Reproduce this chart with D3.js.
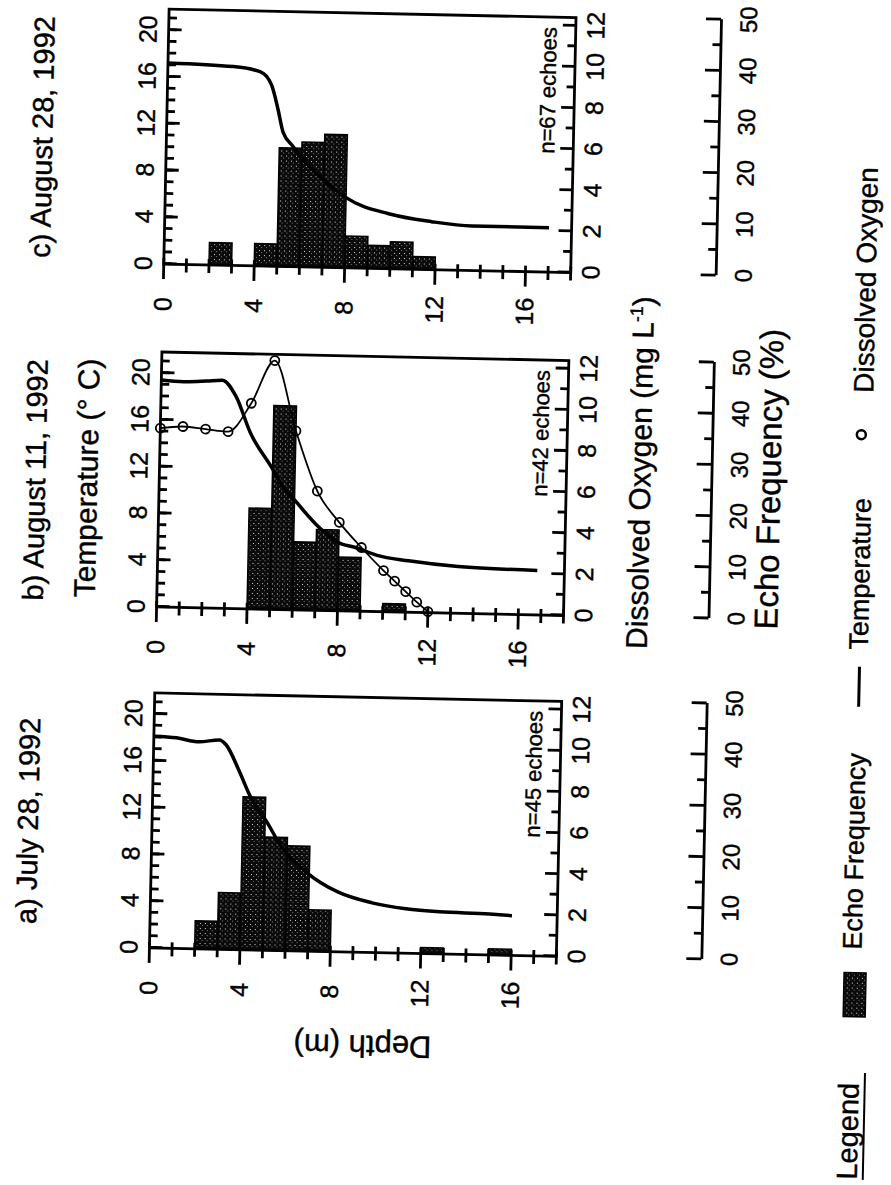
<!DOCTYPE html>
<html>
<head>
<meta charset="utf-8">
<script src="https://cdn.jsdelivr.net/npm/d3@7"></script>
<style>
    body { margin: 0; background: #fff; }
    text { font-family: "Liberation Sans", Arial, Helvetica, sans-serif; fill: #000; stroke: #000; stroke-width: 0.4px; }
</style>
</head>
<body>
<svg id="chart" width="891" height="1185"></svg>
<script>

//Panel labels
var panelTitles = ["a) July 28, 1992", "b) August 11, 1992", "c) August 28, 1992"]
var echoCounts = ["n=45 echoes", "n=42 echoes", "n=67 echoes"]

//Tick labels
var tempTicks = [0, 4, 8, 12, 16, 20]
var depthTicks = [0, 4, 8, 12, 16]
var oxyTicks = [0, 2, 4, 6, 8, 10, 12]
var echoTicks = [0, 10, 20, 30, 40, 50]

//Echo frequency (%) per 1 m depth bin, bins start at these depths
var binsA = [2, 3, 4, 5, 6, 7, 12, 15]
var echoA = [5.5, 11.1, 29.9, 22.1, 20.5, 8.1, 1.2, 1.2]
var binsB = [4, 5, 6, 7, 8, 10]
var echoB = [19.7, 39.8, 13.3, 15.8, 10.5, 1.6]
var binsC = [2, 4, 5, 6, 7, 8, 9, 10, 11]
var echoC = [4.4, 4.4, 23.2, 24.4, 26.0, 6.2, 4.5, 5.3, 2.5]

//Temperature profiles (depth m, deg C)
var tempDepthA = [0, 1, 2, 2.9, 3.2, 3.8, 4.3, 5.1, 5.7, 6.9, 8.3, 9.8, 11.3, 12.8, 15, 16]
var tempA = [18.1, 18.0, 17.7, 17.9, 17.5, 15.3, 13.2, 10.9, 9.0, 6.7, 5.1, 4.25, 3.8, 3.6, 3.5, 3.4]
var tempDepthB = [0, 1, 2, 2.7, 3.3, 4, 5, 5.3, 6, 7, 7.9, 8.8, 9.7, 11.1, 13.3, 16.8]
var tempB = [19.4, 19.3, 19.4, 19.5, 18.2, 15.0, 12.0, 11.0, 9.4, 7.3, 5.9, 5.4, 4.8, 4.4, 4.0, 3.8]
var tempDepthC = [0, 2.9, 4.1, 4.6, 4.9, 5.15, 5.6, 6.5, 7.3, 8, 9.9, 11.8, 13.6, 17]
var tempC = [17.2, 17.0, 16.6, 15.5, 13.5, 11.5, 10.3, 8.3, 7.0, 6.0, 4.7, 4.1, 3.8, 3.8]

//Dissolved oxygen, only measured on August 11 (depth m, mg/L)
var oxyDepthB = [0, 1, 2, 3, 4, 5, 6, 7, 8, 9, 10, 10.5, 11, 11.5, 12]
var oxyB = [8.7, 8.8, 8.7, 8.6, 10.0, 12.1, 8.7, 5.8, 4.3, 3.1, 2.0, 1.5, 1.0, 0.5, 0.05]

var panels = [
    {title: panelTitles[0], n: echoCounts[0], bins: binsA, echo: echoA, tDepth: tempDepthA, temp: tempA},
    {title: panelTitles[1], n: echoCounts[1], bins: binsB, echo: echoB, tDepth: tempDepthB, temp: tempB, oDepth: oxyDepthB, oxy: oxyB},
    {title: panelTitles[2], n: echoCounts[2], bins: binsC, echo: echoC, tDepth: tempDepthC, temp: tempC}
]

var svg = d3.select("#chart")
svg.append("rect").attr("width", 891).attr("height", 1185).attr("fill", "#fff")

//Stipple fill for the bars
var pat = svg.append("defs").append("pattern")
    .attr("id", "stipple")
    .attr("patternUnits", "userSpaceOnUse")
    .attr("width", 5)
    .attr("height", 5)
pat.append("rect").attr("width", 5).attr("height", 5).attr("fill", "#0a0a0a")
pat.append("rect").attr("width", 1).attr("height", 1).attr("fill", "#ddd")
pat.append("rect").attr("x", 3).attr("y", 2).attr("width", 1).attr("height", 1).attr("fill", "#777")

//The figure is printed sideways and the scan is a little tilted
var page = svg.append("g").attr("transform", "rotate(1.2,445,590)")
var land = page.append("g").attr("transform", "translate(0,1185) rotate(-90)")

var lefts = [231, 572, 915]
var plotTop = 157
var plotW = 255
var plotH = 407
var echoAxisY = 552

panels.forEach((p, i) => {
    var g = land.append("g").attr("transform", `translate(${lefts[i]},${plotTop})`)

    var x = d3.scaleLinear().domain([0, 21.8]).range([0, plotW])
    var xOxy = d3.scaleLinear().domain([0, 12.4]).range([0, plotW])
    var xEcho = d3.scaleLinear().domain([0, 50]).range([0, 256])
    var y = d3.scaleLinear().domain([0, 18]).range([0, plotH])

    //Bars
    var bars = p.bins.map((b, k) => ({d: b, v: p.echo[k]}))
    g.selectAll(".bar")
        .data(bars)
        .enter()
        .append("rect")
        .classed("bar", true)
        .attr("x", 0)
        .attr("y", d => y(d.d))
        .attr("width", d => xEcho(d.v))
        .attr("height", d => y(d.d + 1) - y(d.d))
        .attr("fill", "url(#stipple)")
        .attr("stroke", "#000")
        .attr("stroke-width", 1.5)

    //Temperature
    var tLine = d3.line()
        .x(d => x(d[1]))
        .y(d => y(d[0]))
        .curve(d3.curveMonotoneY)
    g.append("path")
        .datum(p.tDepth.map((d, k) => [d, p.temp[k]]))
        .attr("d", tLine)
        .attr("fill", "none")
        .attr("stroke", "#000")
        .attr("stroke-width", 3.5)

    //Dissolved oxygen
    if (p.oxy) {
        var oData = p.oDepth.map((d, k) => [d, p.oxy[k]])
        var oLine = d3.line()
            .x(d => xOxy(d[1]))
            .y(d => y(d[0]))
            .curve(d3.curveMonotoneY)
        g.append("path")
            .datum(oData)
            .attr("d", oLine)
            .attr("fill", "none")
            .attr("stroke", "#000")
            .attr("stroke-width", 1.8)
        g.selectAll(".oxy")
            .data(oData)
            .enter()
            .append("circle")
            .attr("cx", d => xOxy(d[1]))
            .attr("cy", d => y(d[0]))
            .attr("r", 4.5)
            .attr("fill", "none")
            .attr("stroke", "#000")
            .attr("stroke-width", 1.8)
    }

    //Frame
    g.append("rect")
        .attr("width", plotW)
        .attr("height", plotH)
        .attr("fill", "none")
        .attr("stroke", "#000")
        .attr("stroke-width", 2.8)

    //Temperature axis (top)
    g.append("g")
        .call(d3.axisTop(x).tickValues(d3.range(0, 22)).tickSize(-8).tickFormat(""))
        .call(a => a.select(".domain").remove())
    g.append("g")
        .call(d3.axisTop(x).tickValues(tempTicks).tickSize(-13).tickPadding(12))
        .call(a => a.select(".domain").remove())
        .selectAll("text").style("font-size", "25px")

    //Depth axis (left), ticks cross the line
    g.selectAll(".dtick")
        .data(d3.range(0, 19))
        .enter()
        .append("line")
        .attr("x1", d => d % 4 == 0 ? -15 : -8)
        .attr("x2", 6)
        .attr("y1", d => y(d))
        .attr("y2", d => y(d))
        .attr("stroke", "#000")
        .attr("stroke-width", 2.8)
    g.append("g")
        .call(d3.axisLeft(y).tickValues(depthTicks).tickSize(0).tickPadding(0))
        .call(a => a.select(".domain").remove())
        .selectAll("text")
        .attr("x", -40)
        .attr("text-anchor", "middle")
        .style("font-size", "25px")

    //Oxygen axis (bottom)
    var oAxis = g.append("g").attr("transform", `translate(0,${plotH})`)
    oAxis.append("g")
        .call(d3.axisBottom(xOxy).tickValues(d3.range(1, 13, 2)).tickSize(-8).tickFormat(""))
        .call(a => a.select(".domain").remove())
    oAxis.append("g")
        .call(d3.axisBottom(xOxy).tickValues(oxyTicks).tickSize(-13).tickPadding(11))
        .call(a => a.select(".domain").remove())
        .selectAll("text").style("font-size", "25px")

    //Echo frequency axis
    var eAxis = g.append("g").attr("transform", `translate(0,${echoAxisY})`)
    eAxis.append("g")
        .call(d3.axisBottom(xEcho).tickValues(d3.range(5, 50, 10)).tickSize(-8).tickFormat(""))
        .call(a => a.select(".domain").remove())
    eAxis.append("g")
        .call(d3.axisBottom(xEcho).tickValues(echoTicks).tickSize(-15).tickSizeOuter(0).tickPadding(19))
        .selectAll("text").style("font-size", "24px")

    g.selectAll(".tick line").attr("stroke-width", 2.8)
    g.selectAll(".domain").attr("stroke-width", 2.8)

    //Title and echo count
    g.append("text")
        .attr("x", plotW / 2 - 3)
        .attr("y", -114)
        .attr("text-anchor", "middle")
        .style("font-size", "29px")
        .text(p.title)

    g.append("text")
        .attr("x", plotW - 10)
        .attr("y", 388)
        .attr("text-anchor", "end")
        .style("font-size", "22px")
        .text(p.n)

    if (i == 0) {
        g.append("text")
            .attr("transform", "translate(-83,215) rotate(-90)")
            .attr("text-anchor", "middle")
            .style("font-size", "31px")
            .text("Depth (m)")
    }

    if (i == 1) {
        g.append("text")
            .attr("x", plotW / 2)
            .attr("y", -62)
            .attr("text-anchor", "middle")
            .style("font-size", "30px")
            .text("Temperature (° C)")

        var oTitle = g.append("text")
            .attr("x", plotW / 2 + 17)
            .attr("y", 491)
            .attr("text-anchor", "middle")
            .style("font-size", "30px")
        oTitle.append("tspan").text("Dissolved Oxygen (mg L")
        oTitle.append("tspan").attr("dy", -11).style("font-size", "18px").text("-1")
        oTitle.append("tspan").attr("dy", 11).text(")")

        g.append("text")
            .attr("x", plotW / 2 + 13)
            .attr("y", 621)
            .attr("text-anchor", "middle")
            .style("font-size", "33px")
            .text("Echo Frequency (%)")
    }
})

//Legend
var legend = land.append("g")
legend.append("text")
    .attr("x", 14)
    .attr("y", 869)
    .style("font-size", "29px")
    .text("Legend")
legend.append("line")
    .attr("x1", 14).attr("x2", 121)
    .attr("y1", 875).attr("y2", 875)
    .attr("stroke", "#000").attr("stroke-width", 2)

legend.append("rect")
    .attr("x", 177).attr("y", 852)
    .attr("width", 44).attr("height", 22)
    .attr("fill", "url(#stipple)")
    .attr("stroke", "#000").attr("stroke-width", 1.5)
legend.append("text")
    .attr("x", 244).attr("y", 869)
    .style("font-size", "27px")
    .text("Echo Frequency")

legend.append("line")
    .attr("x1", 487).attr("x2", 527)
    .attr("y1", 861).attr("y2", 861)
    .attr("stroke", "#000").attr("stroke-width", 3)
legend.append("text")
    .attr("x", 544).attr("y", 869)
    .style("font-size", "27px")
    .text("Temperature")

legend.append("circle")
    .attr("cx", 759).attr("cy", 858).attr("r", 4.5)
    .attr("fill", "none")
    .attr("stroke", "#000").attr("stroke-width", 2.5)
legend.append("text")
    .attr("x", 801).attr("y", 869)
    .style("font-size", "28px")
    .text("Dissolved Oxygen")

</script>
</body>
</html>
